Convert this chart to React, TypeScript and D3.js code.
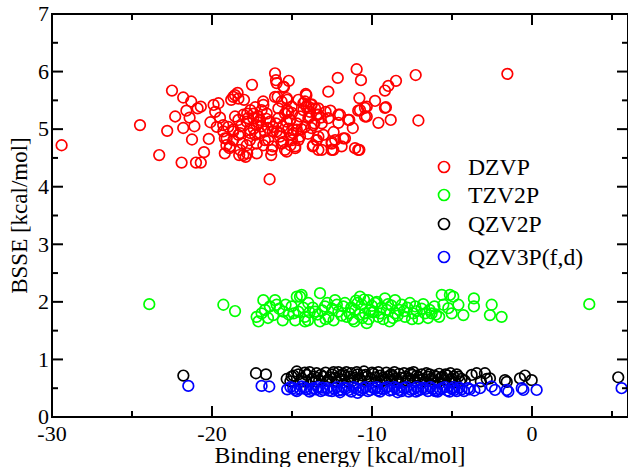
import React from "react";
import * as d3 from "d3";

type P = [number, number];

const dzvp: P[] = [
  [-29.4,4.72],[-24.5,5.07],[-23.3,4.55],[-22.8,4.97],[-22.5,5.67],[-22.3,5.22],[-21.9,4.42],[-21.8,5.55],[-21.8,5.02],[-21.6,5.32],
  [-21.4,5.2],[-21.3,5.48],[-21.25,4.82],[-21.1,5.05],[-21.0,4.42],[-20.7,4.42],[-20.5,4.6],[-20.9,5.36],[-20.7,5.39],[-20.2,4.83],
  [-19.9,5.42],[-19.8,5.3],[-19.7,5.04],[-19.6,5.45],[-19.3,5.07],[-19.2,4.84],[-19.1,4.72],[-19.2,4.58],[-18.9,4.67],[-18.8,5.51],
  [-18.67,5.56],[-18.56,5.59],[-18.4,5.63],[-18.35,5.53],[-18.67,4.96],[-18.56,5.22],[-18.35,5.16],[-18.25,4.93],[-18.1,4.75],[-18.3,4.55],
  [-17.9,4.52],[-17.8,4.58],[-18.0,5.51],[-17.8,5.27],[-17.75,5.19],[-17.6,5.33],[-17.5,5.77],[-17.4,5.01],[-17.6,4.93],[-17.2,4.58],
  [-17.4,5.27],[-17.1,5.22],[-16.9,5.33],[-16.8,5.48],[-16.7,4.81],[-16.4,4.13],[-16.3,4.55],[-16.2,4.7],[-16.2,4.96],[-16.06,5.97],
  [-16.0,5.85],[-15.96,5.8],[-15.9,5.56],[-15.85,5.19],[-15.75,4.93],[-15.65,4.75],[-15.5,5.73],[-15.3,5.33],[-15.2,5.84],[-15.3,5.51],
  [-15.44,4.64],[-15.1,5.16],[-15.0,4.81],[-14.9,4.99],[-14.8,4.7],[-14.6,5.51],[-14.5,4.87],[-14.1,5.59],[-14.1,5.39],[-13.8,5.42],
  [-13.9,5.22],[-13.7,4.7],[-13.6,5.1],[-13.45,4.81],[-13.35,4.64],
  [-18.04,5.25],[-17.42,5.19],[-17.83,5.13],[-17.21,5.07],[-17.63,4.99],[-17.0,5.16],[-16.79,5.42],[-16.58,5.27],[-16.38,5.13],[-16.17,5.04],
  [-15.96,4.96],[-15.75,4.87],[-15.54,4.78],[-16.06,5.56],[-15.65,5.48],[-15.85,5.36],[-15.44,5.27],[-15.33,5.13],[-16.48,4.81],[-16.27,4.64],
  [-16.79,4.72],[-17.21,4.75],[-17.63,4.81],[-17.83,4.72],[-18.25,4.64],[-18.04,4.55],[-18.88,4.7],[-19.08,4.84],[-19.29,4.96],[-18.98,5.04],
  [-18.67,4.99],[-18.35,4.9],[-18.67,4.81],[-17.0,4.93],[-17.31,4.9],[-16.69,4.96],[-15.54,5.74],
  [-10.96,6.04],[-12.14,5.89],[-10.69,5.85],[-12.73,5.65],[-10.79,5.54],[-7.27,5.94],[-8.5,5.84],[-8.98,5.75],[-9.19,5.67],[-9.81,5.49],
  [-9.13,5.38],[-10.33,5.39],[-10.75,5.33],[-10.33,5.22],[-9.6,5.11],[-8.83,5.16],[-7.1,5.15],[-11.42,5.16],[-12.1,5.25],[-12.1,5.11],
  [-12.73,5.19],[-11.69,4.84],[-11.06,4.67],[-10.79,4.64],[-11.9,4.7],[-12.42,4.64],[-12.52,4.78],[-13.14,4.64],[-13.67,4.72],[-13.35,4.87],
  [-13.56,5.36],[-13.35,5.25],[-13.98,5.39],[-14.29,5.45],[-1.54,5.96],[-14.14,5.61],[-9.19,5.37],[-10.44,5.37],[-10.86,5.32],[-10.44,5.22],
  [-12.0,5.25],[-11.48,5.16],[-13.14,5.1],[-13.67,5.07],[-14.19,5.04],[-14.7,4.99],[-15.02,4.9],[-14.6,4.81],[-15.1,4.72],[-14.8,4.67],
  [-15.33,4.61],[-13.46,4.81],[-12.52,4.75],[-12.3,4.81],[-11.79,4.84],[-12.52,4.64],[-10.86,4.64],[-14.19,5.48],[-13.77,5.43],[-13.35,5.36],
  [-14.29,5.33],[-13.88,5.3],[-13.46,5.25],[-14.5,5.22],[-13.98,5.19],[-15.13,5.16],[-15.23,5.3],[-15.02,5.39],[-15.33,5.54],[-15.23,5.01],
  [-14.92,4.93],[-13.04,4.9],
  [-17.1,5.12],[-16.9,5.05],[-16.6,5.18],[-16.5,5.02],[-16.0,5.1],[-15.6,5.05],[-15.0,5.28],[-14.7,5.1],[-14.4,5.0],[-14.0,4.92],
  [-13.8,5.02],[-13.2,5.2],[-12.9,5.3],[-12.6,5.32],[-12.4,4.95],[-11.2,5.02],[-17.3,5.38],[-18.2,5.05],[-19.5,5.2],[-20.1,5.12]
];

const tzv2p: P[] = [
  [-23.92,1.96],[-19.29,1.95],[-18.56,1.84],[-17.21,1.74],[-17.1,1.66],[-16.79,2.03],[-16.69,1.86],[-16.38,1.92],[-16.06,2.03],[-15.96,1.95],
  [-16.17,1.77],[-15.54,1.83],[-15.58,1.68],[-15.02,1.92],[-14.7,2.09],[-14.8,1.68],[-14.6,1.83],[-14.5,2.09],[-14.19,1.66],[-13.25,2.15],
  [-14.4,2.12],[-13.98,1.98],[-14.19,1.74],[-13.56,1.83],[-12.94,1.92],[-12.73,1.74],[-13.25,1.66],[-12.31,2.03],[-12.1,1.83],[-11.69,1.98],
  [-11.58,1.74],[-11.06,1.86],[-10.75,2.09],[-10.64,1.95],[-10.44,1.8],[-10.23,2.03],[-10.13,1.86],[-10.33,1.63],[-9.81,1.98],[-9.6,1.74],
  [-9.19,2.06],[-9.08,1.86],[-8.56,2.03],[-8.56,1.8],[-8.14,1.95],[-7.94,1.74],[-7.63,1.98],[-7.42,1.8],[-7.1,1.71],[-6.69,1.8],
  [-6.27,1.8],[-5.64,2.12],[-5.13,2.12],[-5.54,1.95],[-5.23,1.89],[-5.02,1.8],[-4.92,2.09],[-4.6,1.95],[-4.29,1.77],[-3.63,2.06],
  [-3.63,1.92],[-2.52,1.95],[-2.63,1.77],[-1.9,1.74],[3.58,1.96],
  [-13.7,1.9],[-13.4,1.78],[-12.9,1.7],[-12.5,1.88],[-12.2,1.95],[-11.9,1.76],[-11.3,1.9],[-11.2,1.7],[-10.9,1.98],[-10.6,1.72],
  [-10.0,1.93],[-9.9,1.82],[-9.4,1.9],[-9.3,1.7],[-8.8,1.94],[-8.7,1.72],[-8.3,1.86],[-7.8,1.9],[-7.3,1.92],[-6.9,1.88],
  [-6.5,1.72],[-15.2,1.78],[-15.8,1.88],[-16.9,1.8],[-14.0,1.68],[-11.0,2.02],[-10.5,2.04],[-9.7,2.0],[-6.0,1.78],[-5.8,1.74],
  [-16.5,1.72],[-15.4,1.95],[-14.9,1.8],[-14.3,1.9],[-13.9,1.82],[-13.1,1.85],[-12.8,1.98],[-12.4,1.68],[-11.8,1.92],[-11.4,1.8],
  [-11.1,1.66],[-10.8,1.78],[-10.2,1.7],[-10.0,1.82],[-9.5,1.8],[-9.0,1.96],[-8.9,1.66],[-8.4,1.76],[-8.0,1.84],[-7.5,1.7],
  [-7.2,1.84],[-6.8,1.96],[-6.4,1.86],[-6.1,1.92]
];

const qzv2p: P[] = [
  [-21.79,0.72],[-17.25,0.76],[-16.63,0.74],[-15.33,0.66],[-15.02,0.7],[-14.7,0.79],[-14.4,0.67],[-14.08,0.73],[-13.77,0.66],[-13.46,0.76],
  [-13.04,0.7],[-12.73,0.64],[-12.5,0.74],[-12.3,0.68],[-12.1,0.78],[-11.9,0.65],[-11.7,0.72],[-11.5,0.62],[-11.3,0.76],[-11.1,0.68],
  [-10.9,0.74],[-10.7,0.64],[-10.5,0.79],[-10.3,0.7],[-10.1,0.66],[-9.9,0.75],[-9.7,0.62],[-9.5,0.72],[-9.3,0.68],[-9.1,0.77],
  [-8.9,0.64],[-8.7,0.71],[-8.5,0.66],[-8.3,0.75],[-8.1,0.62],[-7.9,0.7],[-7.7,0.67],[-7.5,0.73],[-7.3,0.63],[-7.1,0.69],
  [-6.9,0.74],[-6.7,0.62],[-6.5,0.7],[-6.3,0.66],[-6.1,0.72],[-5.9,0.6],[-5.7,0.68],[-5.5,0.64],[-5.3,0.72],[-5.0,0.66],
  [-4.8,0.6],[-4.6,0.7],[-4.2,0.63],[-3.77,0.73],[-3.46,0.76],[-2.94,0.76],[-2.83,0.66],[-2.63,0.67],[-1.69,0.64],[-1.58,0.61],
  [-0.75,0.67],[-0.44,0.72],[-0.02,0.64],[5.39,0.69],
  [-14.9,0.72],[-14.2,0.77],[-13.6,0.7],[-13.3,0.64],[-12.9,0.77],[-12.6,0.69],[-11.8,0.75],[-11.4,0.7],[-10.8,0.67],[-10.4,0.73],
  [-9.8,0.69],[-9.2,0.64],[-8.8,0.74],[-8.2,0.68],[-7.6,0.76],[-7.0,0.64],[-6.6,0.76],[-6.0,0.7],[-5.4,0.74],[-4.9,0.7],
  [-4.4,0.66],[-3.2,0.62],
  [-15.1,0.62],[-14.6,0.74],[-14.3,0.62],[-13.9,0.78],[-13.5,0.62],[-13.2,0.73],[-12.8,0.63],[-12.4,0.78],[-12.2,0.62],[-11.95,0.72],
  [-11.6,0.78],[-11.2,0.63],[-10.95,0.78],[-10.6,0.72],[-10.2,0.62],[-10.0,0.77],[-9.6,0.78],[-9.4,0.62],[-9.0,0.7],[-8.6,0.78],
  [-8.4,0.62],[-8.0,0.76],[-7.8,0.63],[-7.4,0.78],[-7.2,0.72],[-6.8,0.66],[-6.4,0.74],[-6.2,0.62],[-5.8,0.75],[-5.6,0.7],
  [-5.2,0.62],[-5.1,0.76],[-4.7,0.74],[-4.5,0.62]
];

const qzv3p: P[] = [
  [-21.48,0.54],[-16.9,0.54],[-16.42,0.53],[-14.92,0.5],[-14.4,0.53],[-13.67,0.5],[-13.04,0.47],[-15.3,0.48],[-14.7,0.45],[-14.1,0.48],
  [-13.9,0.44],[-13.4,0.52],[-12.8,0.5],[-12.5,0.45],[-12.2,0.52],[-11.9,0.47],[-11.6,0.5],[-11.3,0.44],[-11.0,0.5],[-10.7,0.46],
  [-10.4,0.52],[-10.1,0.47],[-9.8,0.49],[-9.5,0.44],[-9.2,0.5],[-8.9,0.46],[-8.6,0.52],[-8.3,0.47],[-8.0,0.5],[-7.7,0.44],
  [-7.4,0.49],[-7.1,0.46],[-6.8,0.51],[-6.5,0.45],[-6.2,0.49],[-5.9,0.44],[-5.6,0.5],[-5.3,0.46],[-5.0,0.49],[-4.7,0.45],
  [-4.4,0.48],[-4.0,0.5],[-3.25,0.5],[-2.52,0.53],[-2.31,0.47],[-1.58,0.47],[-1.48,0.44],[-0.64,0.5],[-0.54,0.47],[0.29,0.47],
  [5.6,0.5],[-14.5,0.49],[-13.2,0.45],[-12.0,0.43],[-10.9,0.42],[-9.7,0.52],[-8.4,0.43],[-7.2,0.52],[-6.0,0.47],[-4.9,0.52],
  [-3.6,0.46],
  [-15.1,0.52],[-14.8,0.47],[-14.2,0.51],[-13.8,0.47],[-13.5,0.48],[-13.1,0.51],[-12.7,0.46],[-12.35,0.49],[-12.1,0.46],[-11.75,0.51],
  [-11.45,0.47],[-11.15,0.52],[-10.85,0.48],[-10.55,0.5],[-10.25,0.45],[-9.95,0.51],[-9.65,0.46],[-9.35,0.49],[-9.05,0.52],[-8.75,0.47],
  [-8.45,0.5],[-8.15,0.45],[-7.85,0.52],[-7.55,0.47],[-7.25,0.44],[-6.95,0.48],[-6.65,0.49],[-6.35,0.52],[-6.05,0.45],[-5.75,0.48],
  [-5.45,0.52],[-5.15,0.44],[-4.85,0.47],[-4.55,0.51],[-4.25,0.45],[-3.9,0.48]
];

const seriesNames = ["DZVP", "TZV2P", "QZV2P", "QZV3P(f,d)"];
const seriesColors = ["#ff0000", "#00ff00", "#000000", "#0000ff"];
const seriesData = [dzvp, tzv2p, qzv2p, qzv3p];

const xMajorTicks = [-30, -20, -10, 0];
const xMinorTicks = [-25, -15, -5, 5];
const yMajorTicks = [0, 1, 2, 3, 4, 5, 6, 7];
const yMinorTicks = [0.5, 1.5, 2.5, 3.5, 4.5, 5.5, 6.5];

const xTitle = "Binding energy [kcal/mol]";
const yTitle = "BSSE [kcal/mol]";

export default function App() {
  const W = 628, H = 467;
  const left = 52, right = 628, top = 14, bottom = 417;
  const x = d3.scaleLinear().domain([-30, 6]).range([left, right]);
  const y = d3.scaleLinear().domain([0, 7]).range([bottom, top]);
  const font = "'Liberation Serif', 'Times New Roman', serif";
  const major = 11, minor = 6;
  const r = 5.3;
  const legendX = 444;
  const legendRows = [167, 195, 224, 257];

  return (
    <svg width={W} height={H} style={{ position: "absolute", left: 0, top: 0, background: "#fff" }} fontFamily={font}>
      <rect x={0} y={0} width={W} height={H} fill="#fff" />
      {seriesData.map((data, si) => (
        <g key={si} fill="none" stroke={seriesColors[si]} strokeWidth={1.7}>
          {data.map((d, i) => (
            <circle key={i} cx={x(d[0])} cy={y(d[1])} r={r} />
          ))}
        </g>
      ))}
      <g stroke="#000" strokeWidth={2} fill="none">
        <rect x={left} y={top} width={right - left} height={bottom - top} />
        {xMajorTicks.map((t) => (
          <g key={"xM" + t}>
            <line x1={x(t)} x2={x(t)} y1={bottom} y2={bottom - major} />
            <line x1={x(t)} x2={x(t)} y1={top} y2={top + major} />
          </g>
        ))}
        {xMinorTicks.map((t) => (
          <g key={"xm" + t}>
            <line x1={x(t)} x2={x(t)} y1={bottom} y2={bottom - minor} />
            <line x1={x(t)} x2={x(t)} y1={top} y2={top + minor} />
          </g>
        ))}
        {yMajorTicks.map((t) => (
          <g key={"yM" + t}>
            <line x1={left} x2={left + major} y1={y(t)} y2={y(t)} />
            <line x1={right} x2={right - major} y1={y(t)} y2={y(t)} />
          </g>
        ))}
        {yMinorTicks.map((t) => (
          <g key={"ym" + t}>
            <line x1={left} x2={left + minor} y1={y(t)} y2={y(t)} />
            <line x1={right} x2={right - minor} y1={y(t)} y2={y(t)} />
          </g>
        ))}
      </g>
      <g fontSize={22} fill="#000">
        {xMajorTicks.map((t) => (
          <text key={"xl" + t} x={x(t)} y={bottom + 24} textAnchor="middle">{t < 0 ? "-" + Math.abs(t) : String(t)}</text>
        ))}
        {yMajorTicks.map((t) => (
          <text key={"yl" + t} x={left - 3} y={y(t)} dy="0.33em" textAnchor="end">{t}</text>
        ))}
      </g>
      <text x={(left + right) / 2} y={463} textAnchor="middle" fontSize={23.7} fill="#000">{xTitle}</text>
      <text transform={`translate(27, ${(top + bottom) / 2}) rotate(-90)`} textAnchor="middle" fontSize={23} fill="#000">{yTitle}</text>
      <g>
        {seriesNames.map((name, i) => (
          <g key={name}>
            <circle cx={legendX} cy={legendRows[i]} r={5.5} fill="none" stroke={seriesColors[i]} strokeWidth={1.7} />
            <text x={468} y={legendRows[i] + 7.5} fontSize={23.7} fill="#000">{name}</text>
          </g>
        ))}
      </g>
    </svg>
  );
}
